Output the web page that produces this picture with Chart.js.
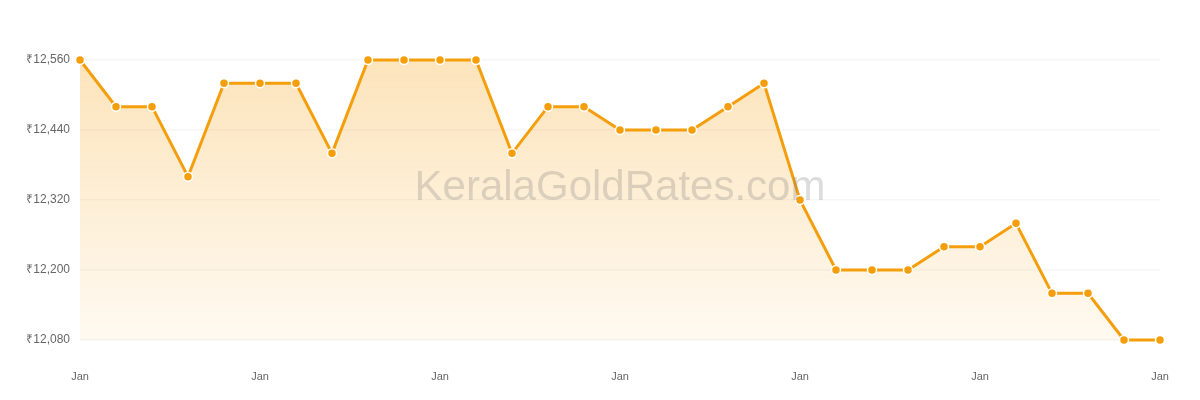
<!DOCTYPE html>
<html>
<head>
<meta charset="utf-8">
<script src="https://cdn.jsdelivr.net/npm/chart.js@4/dist/chart.umd.min.js"></script>
<style>
  html, body { margin: 0; padding: 0; background: #fff; }
  #wrap { width: 1200px; height: 400px; }
</style>
</head>
<body>
<div id="wrap"><canvas id="chart"></canvas></div>
<script>
// ─── Data ─────────────────────────────────────────────────────────────────────

const xLabels = Array(31).fill('Jan');

const prices = [
  12560, 12480, 12480, 12360, 12520, 12520, 12520, 12400,
  12560, 12560, 12560, 12560, 12400, 12480, 12480, 12440,
  12440, 12440, 12480, 12520, 12320, 12200, 12200, 12200,
  12240, 12240, 12280, 12160, 12160, 12080, 12080,
];

const yTicks = [12080, 12200, 12320, 12440, 12560];

// ─── Styling ──────────────────────────────────────────────────────────────────

const COLORS = {
  line:  '#f59e0b',
  grid:  '#f6f6f6',
  text:  '#666',
  mark:  'rgba(120,120,120,0.26)',
};

const fmtINR = v => '₹' + v.toLocaleString('en-IN');

// watermark in the middle of the plot area
const watermark = {
  id: 'watermark',
  afterDatasetsDraw(chart) {
    const { ctx, chartArea: a } = chart;
    ctx.save();
    ctx.font = "42px 'Liberation Sans', Arial, sans-serif";
    ctx.fillStyle = COLORS.mark;
    ctx.textAlign = 'center';
    ctx.textBaseline = 'middle';
    ctx.fillText('KeralaGoldRates.com', (a.left + a.right) / 2, 188);
    ctx.restore();
  },
};

const ctx = document.getElementById('chart').getContext('2d');

new Chart(ctx, {
  type: 'line',
  data: {
    labels: xLabels,
    datasets: [{
      data: prices,
      borderColor: COLORS.line,
      borderWidth: 3,
      pointRadius: 4.5,
      pointBackgroundColor: COLORS.line,
      pointBorderColor: '#fff',
      pointBorderWidth: 1.5,
      tension: 0,
      clip: false,
      fill: 'start',
      backgroundColor: c => {
        const area = c.chart.chartArea;
        if (!area) return 'rgba(245,158,11,0.15)';
        const g = c.chart.ctx.createLinearGradient(0, area.top, 0, area.bottom);
        g.addColorStop(0, 'rgba(245,158,11,0.28)');
        g.addColorStop(1, 'rgba(245,158,11,0.06)');
        return g;
      },
    }],
  },
  options: {
    responsive: true,
    maintainAspectRatio: false,
    animation: false,
    layout: { padding: { top: 60, right: 40, bottom: 18, left: 0 } },
    plugins: {
      legend: { display: false },
      tooltip: { enabled: false },
    },
    scales: {
      x: {
        afterFit: s => { s.height = 42; },
        grid: { display: false },
        border: { display: false },
        ticks: {
          color: COLORS.text,
          font: { family: "'Liberation Sans', Arial, sans-serif", size: 11 },
          autoSkip: false,
          maxRotation: 0,
          padding: 22,
          callback: (v, i) => (i % 5 === 0 ? xLabels[i] : ''),
        },
      },
      y: {
        min: yTicks[0],
        max: yTicks[yTicks.length - 1],
        afterFit: s => { s.width = 80; },
        afterBuildTicks: s => { s.ticks = yTicks.map(v => ({ value: v })); },
        grid: { color: COLORS.grid, lineWidth: 1.5, drawTicks: false },
        border: { display: false },
        ticks: {
          color: COLORS.text,
          font: { family: "'Liberation Sans', Arial, sans-serif", size: 12 },
          padding: 10,
          callback: v => fmtINR(v),
        },
      },
    },
  },
  plugins: [watermark],
});
</script>
</body>
</html>
